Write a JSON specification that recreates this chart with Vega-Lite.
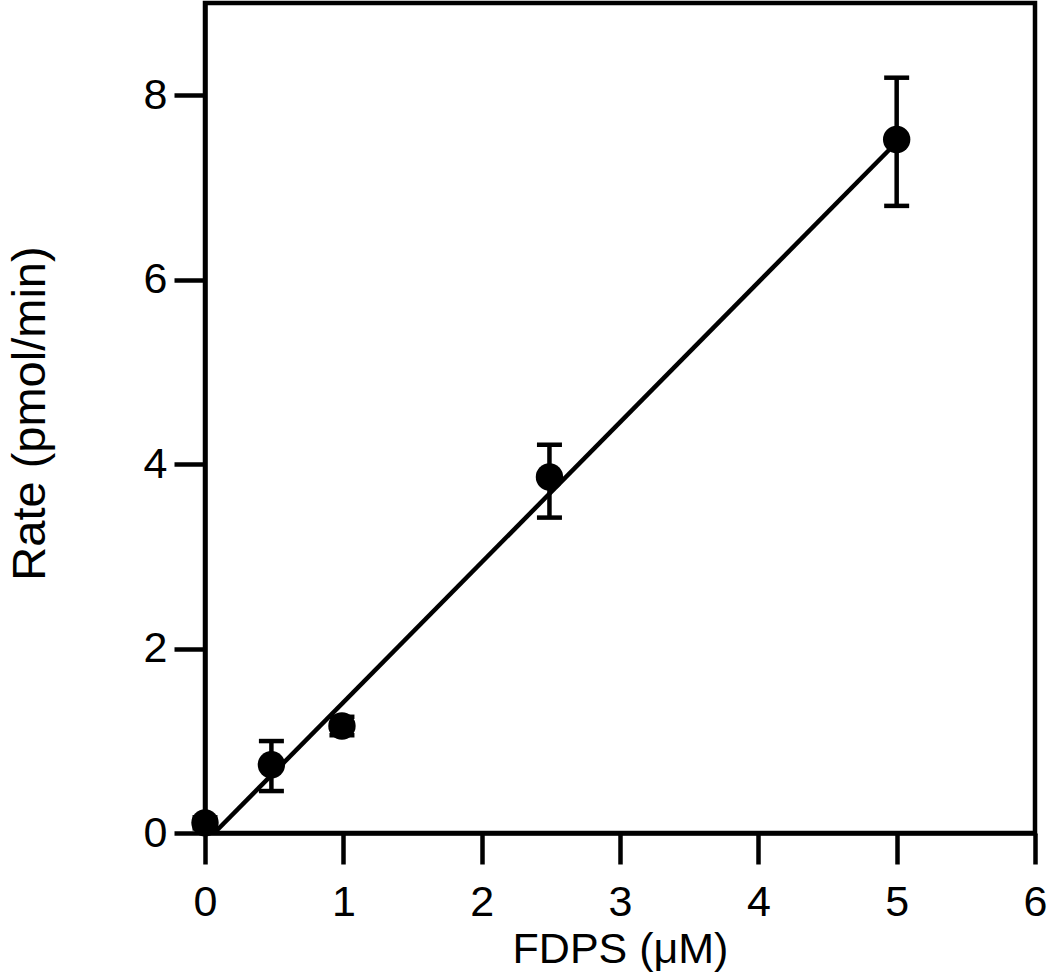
{
  "$schema": "https://vega.github.io/schema/vega-lite/v6.json",
  "width": 830,
  "height": 830,
  "autosize": {"type": "none"},
  "padding": {"left": 205, "top": 3, "right": 15, "bottom": 145},
  "background": "white",
  "datasets": {
    "points": [
      {"fdps": 0, "rate": 0.11, "lo": 0.05, "hi": 0.17},
      {"fdps": 0.48, "rate": 0.74, "lo": 0.455, "hi": 0.997},
      {"fdps": 0.99, "rate": 1.16, "lo": 1.06, "hi": 1.26},
      {"fdps": 2.49, "rate": 3.86, "lo": 3.42, "hi": 4.21},
      {"fdps": 5.0, "rate": 7.52, "lo": 6.8, "hi": 8.19}
    ],
    "fit": [
      {"fdps": 0.067, "rate": 0},
      {"fdps": 5.0, "rate": 7.49}
    ]
  },
  "config": {
    "view": {"stroke": "black", "strokeWidth": 4.5},
    "axis": {
      "grid": false,
      "labelFont": "Liberation Sans",
      "titleFont": "Liberation Sans",
      "labelFontSize": 43,
      "titleFontSize": 43,
      "titleFontWeight": "normal",
      "labelColor": "black",
      "titleColor": "black",
      "tickColor": "black",
      "tickWidth": 4.5,
      "tickSize": 31,
      "domainColor": "black",
      "domainWidth": 4.5
    }
  },
  "encoding": {
    "x": {
      "field": "fdps", "type": "quantitative",
      "scale": {"domain": [0, 6], "nice": false, "zero": false},
      "axis": {"values": [0, 1, 2, 3, 4, 5, 6], "title": "FDPS (μM)", "labelPadding": 17, "labelFlush": false, "titleY": 129, "titleBaseline": "alphabetic"}
    },
    "y": {
      "field": "rate", "type": "quantitative",
      "scale": {"domain": [0, 9], "nice": false, "zero": false},
      "axis": {"values": [0, 2, 4, 6, 8], "title": "Rate (pmol/min)", "titleFontSize": 47, "labelPadding": 7, "labelFlush": false, "titleX": -161, "titleY": 410, "titleBaseline": "alphabetic"}
    }
  },
  "layer": [
    {
      "data": {"name": "fit"},
      "mark": {"type": "line", "color": "black", "strokeWidth": 4.5}
    },
    {
      "data": {"name": "points"},
      "mark": {"type": "rule", "color": "black", "strokeWidth": 4.5},
      "encoding": {"y": {"field": "lo", "type": "quantitative"}, "y2": {"field": "hi"}}
    },
    {
      "data": {"name": "points"},
      "mark": {"type": "tick", "orient": "horizontal", "color": "black", "size": 25, "thickness": 4.5, "opacity": 1},
      "encoding": {"y": {"field": "lo", "type": "quantitative"}}
    },
    {
      "data": {"name": "points"},
      "mark": {"type": "tick", "orient": "horizontal", "color": "black", "size": 25, "thickness": 4.5, "opacity": 1},
      "encoding": {"y": {"field": "hi", "type": "quantitative"}}
    },
    {
      "data": {"name": "points"},
      "mark": {"type": "circle", "color": "black", "size": 750, "opacity": 1}
    }
  ]
}
